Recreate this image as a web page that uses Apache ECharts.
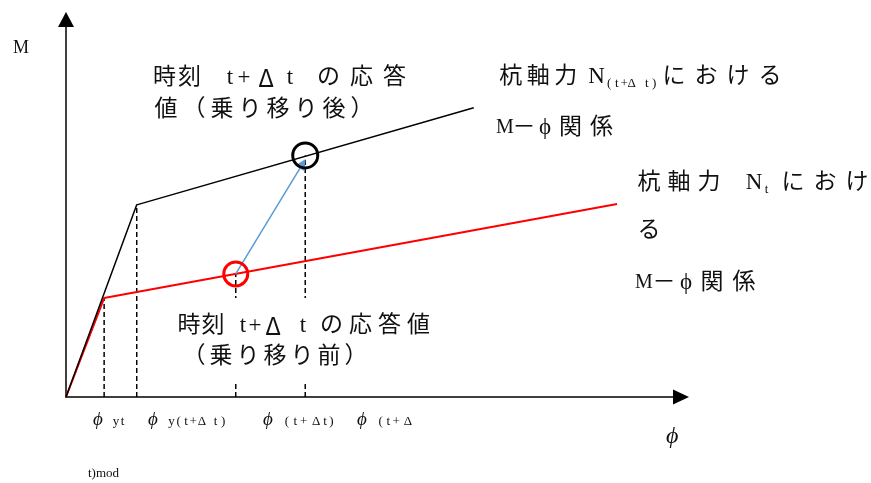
<!DOCTYPE html>
<html>
<head>
<meta charset="utf-8">
<script src="https://cdn.jsdelivr.net/npm/echarts@6/dist/echarts.min.js"></script>
<style>
  html, body { margin: 0; padding: 0; background: #fff; }
  #chart { width: 871px; height: 483px; }
</style>
</head>
<body>
<div id="chart"></div>
<script>
// axis extents (schematic units)
const phiMax = 10
const mMax = 10

// M-φ curves: origin, yield point, end
const curveNt = [[0, 0], [0.62, 2.62], [8.96, 5.11]]
const curveNtdt = [[0, 0], [1.15, 5.09], [6.63, 7.66]]

// response values before / after the shift
const respBefore = [2.76, 3.26]
const respAfter = [3.89, 6.40]
const shiftArrow = [respBefore, [3.85, 6.18]]

// dashed guides drop from these points to the φ axis
const guidePoints = [curveNt[1], curveNtdt[1], respBefore, respAfter]

// tick texts under the φ axis (φ + subscript pieces)
const tickSubs = [
  ['yt'],
  ['y(t+', 'Δ', ' ', 't)'],
  ['(t+', ' ', 'Δ', 't)'],
  ['(t+', ' ', 'Δ']
]
const tickTail = 't)mod'

const serifJP = '"Liberation Serif", "Noto Sans CJK JP", serif'
const serif = '"Liberation Serif", "DejaVu Serif", serif'
const ink = '#111'

const chart = echarts.init(document.getElementById('chart'))

// build rich text where every char gets a fixed box width (Word-like spacing)
function spaced (parts, fontSize, fontFamily) {
  const rich = {}
  let text = ''
  parts.forEach((p, i) => {
    const [str, w, extra] = p
    const key = 'p' + i
    rich[key] = Object.assign({ fontSize, fontFamily, fill: ink, align: 'center' }, w ? { width: w } : {}, extra || {})
    if (w) {
      for (const ch of str) text += '{' + key + '|' + ch + '}'
    } else {
      text += '{' + key + '|' + str + '}'
    }
  })
  return { text, rich }
}

function label (x, y, parts, fontSize = 23, fontFamily = serifJP) {
  const r = spaced(parts, fontSize, fontFamily)
  return {
    type: 'text',
    z: 100,
    silent: true,
    style: { x, y, text: r.text, rich: r.rich, verticalAlign: 'middle', fill: ink }
  }
}

const sub = { fontSize: 13, fontFamily: serif, padding: [13, 0, 0, 0] }
const delta = { fontSize: 24, fontFamily: '"Noto Sans CJK JP", sans-serif' }
const bigM = { fontSize: 20 }

const guideSeries = guidePoints.map(p => ({
  type: 'line',
  data: [[p[0], 0], [p[0], p[1]]],
  symbol: 'none',
  silent: true,
  z: 1,
  lineStyle: { color: '#000', width: 1.5, type: [5, 3] }
}))

const tickX = [93, 148, 263, 357]
const tickW = [[6.5], [7.25, 10, 5, 7.5], [8.3, 3, 11, 6.5], [7.7, 3, 10]]

const annotations = [
  // upper annotation
  label(152, 78, [['時刻', 25], [' ', 22], ['t', 12], ['+', 16], ['Δ', 28, delta], [' ', 4], ['t', 12], [' ', 16], ['の応答', 33]]),
  label(152, 110, [['値（乗り移り後）', 28]]),
  // N(t+Δt) curve label
  label(497, 77, [['杭軸力', 27.5], [' ', 8], ['N', 18], ['(t+Δ t)', 7.5, sub], ['における', 32]]),
  label(497, 128, [['M', 16, bigM], ['－', 22], ['ϕ', 20], ['関係', 31]]),
  // Nt curve label
  label(634, 183, [['杭軸力', 30], [' ', 21], ['N', 18], ['t', 7, sub], [' ', 7], ['におけ', 32]]),
  label(634, 231, [['る', 30]]),
  label(636, 283, [['M', 16, bigM], ['－', 24], ['ϕ', 20], ['関係', 32]]),
  // lower annotation
  label(177, 326, [['時刻', 24], [' ', 12], ['t', 12], ['+', 12], ['Δ', 24, delta], [' ', 12], ['t', 12], [' ', 8], ['の応答値', 29]]),
  label(180.5, 357, [['（乗り移り前）', 27]])
]

const tickTexts = tickSubs.map((pieces, i) => label(tickX[i], 420, [
  ['ϕ', 0, { fontSize: 19, fontFamily: serif, fontStyle: 'italic', padding: [0, 10, 0, 0] }],
  ...pieces.map((s, j) => [s, tickW[i][j], { fontSize: 13, fontFamily: serif, padding: [3, 0, 0, 0] }])
], 13, serif))

chart.setOption({
  animation: false,
  backgroundColor: '#fff',
  grid: { left: 66, right: 190, top: 19.5, bottom: 86 },
  xAxis: {
    type: 'value',
    min: 0, max: phiMax,
    axisLine: {
      show: true, onZero: false,
      symbol: ['none', 'triangle'], symbolSize: [15, 16],
      lineStyle: { color: '#000', width: 1.5 }
    },
    axisTick: { show: false },
    axisLabel: { show: false },
    splitLine: { show: false }
  },
  yAxis: {
    type: 'value',
    min: 0, max: mMax,
    axisLine: {
      show: true, onZero: false,
      symbol: ['none', 'triangle'], symbolSize: [16, 15],
      lineStyle: { color: '#000', width: 1.5 }
    },
    axisTick: { show: false },
    axisLabel: { show: false },
    splitLine: { show: false }
  },
  series: [
    ...guideSeries,
    {
      name: 'Nt',
      type: 'line',
      data: curveNt,
      symbol: 'none',
      silent: true,
      z: 3,
      lineStyle: { color: '#ff0000', width: 2 }
    },
    {
      name: 'N(t+Δt)',
      type: 'line',
      data: curveNtdt,
      symbol: 'none',
      silent: true,
      z: 3,
      lineStyle: { color: '#000', width: 1.5 }
    },
    {
      type: 'lines',
      coordinateSystem: 'cartesian2d',
      silent: true,
      z: 4,
      symbol: ['none', 'triangle'],
      symbolSize: 11,
      lineStyle: { color: '#5b9bd5', width: 1.5, opacity: 1, curveness: 0 },
      data: [{ coords: shiftArrow }]
    },
    {
      type: 'scatter',
      data: [respBefore],
      symbol: 'circle',
      symbolSize: 24,
      silent: true,
      z: 5,
      itemStyle: { color: 'rgba(0,0,0,0)', borderColor: '#ff0000', borderWidth: 3, opacity: 1 }
    },
    {
      type: 'scatter',
      data: [respAfter],
      symbol: 'circle',
      symbolSize: 25,
      silent: true,
      z: 5,
      itemStyle: { color: 'rgba(0,0,0,0)', borderColor: '#000', borderWidth: 3, opacity: 1 }
    }
  ],
  graphic: [
    // white text box behind the lower annotation (hides the guides)
    { type: 'rect', z: 90, silent: true, shape: { x: 168, y: 298, width: 268, height: 85 }, style: { fill: '#fff' } },
    ...annotations,
    ...tickTexts,
    { type: 'text', z: 100, silent: true, style: { x: 88, y: 474, text: tickTail, verticalAlign: 'middle', fontSize: 13, fontFamily: serif, fill: ink } },
    { type: 'text', z: 100, silent: true, style: { x: 13, y: 48, text: 'M', verticalAlign: 'middle', fontSize: 18, fontFamily: serif, fill: ink } },
    { type: 'text', z: 100, silent: true, style: { x: 666, y: 437, text: 'ϕ', verticalAlign: 'middle', fontSize: 24, fontFamily: serif, fontStyle: 'italic', fill: ink } }
  ]
})
</script>
</body>
</html>
